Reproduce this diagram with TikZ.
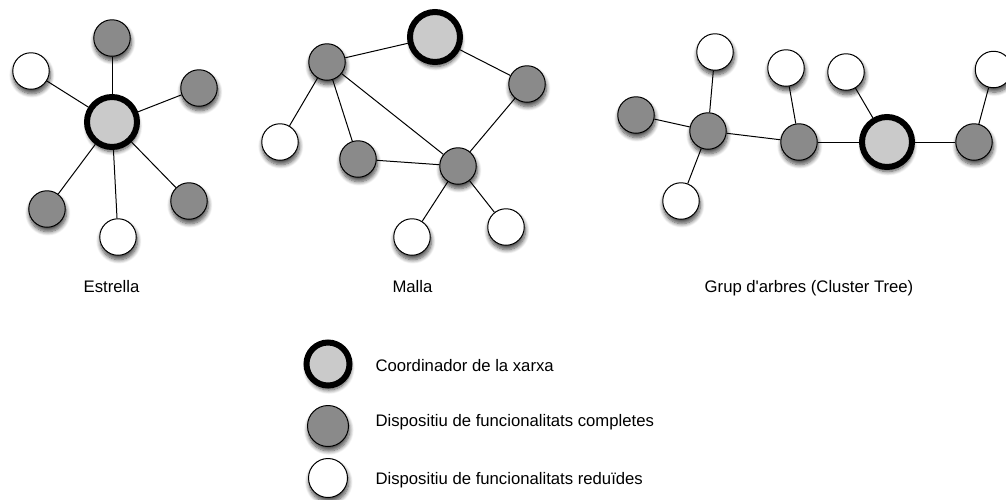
\documentclass[tikz,border=0pt]{standalone}
\usepackage{fontspec}
\setmainfont{Liberation Sans}[Ligatures=TeXOff]
\usetikzlibrary{shadows.blur}
\definecolor{fullgray}{RGB}{138,138,138}
\definecolor{coordgray}{RGB}{202,202,202}
\tikzset{
  shd/.style={blur shadow={shadow xshift=0.8pt, shadow yshift=-4pt, shadow opacity=70, shadow blur steps=8, shadow blur radius=4pt, shadow scale=1.02}},
  ffd/.style={circle, draw=black, line width=1pt, fill=fullgray, minimum size=36.5pt, inner sep=0pt, shd},
  rfd/.style={circle, draw=black, line width=1pt, fill=white, minimum size=36.5pt, inner sep=0pt, shd},
  crd/.style={circle, draw=black, line width=6pt, fill=coordgray, minimum size=50pt, inner sep=0pt, shd},
  edge/.style={draw=black, line width=1pt},
  lbl/.style={font=\fontsize{16.7}{20}\selectfont, anchor=base},
  leg/.style={font=\fontsize{16.7}{20}\selectfont, anchor=base west}
}
\begin{document}
\begin{tikzpicture}[x=1pt,y=-1pt]
\useasboundingbox (0,0) rectangle (1006,499);
% Estrella
\node[crd] (sc) at (112,122) {};
\node[ffd] (s1) at (112,38) {};
\node[rfd] (s2) at (31,71) {};
\node[ffd] (s3) at (199,88) {};
\node[ffd] (s4) at (47,209) {};
\node[rfd] (s5) at (118,237) {};
\node[ffd] (s6) at (189,201) {};
\foreach \n in {s1,s2,s3,s4,s5,s6} \draw[edge] (sc) -- (\n);
\node[lbl] (lstar) at (111.5,292) {Estrella};
% Malla
\node[crd] (mc) at (435,37) {};
\node[ffd] (m1) at (327,62) {};
\node[ffd] (m2) at (527,84) {};
\node[rfd] (m3) at (280,142) {};
\node[ffd] (m4) at (358,159) {};
\node[ffd] (m5) at (458,166) {};
\node[rfd] (m6) at (412,237) {};
\node[rfd] (m7) at (506,227) {};
\draw[edge] (mc) -- (m1);
\draw[edge] (mc) -- (m2);
\draw[edge] (m1) -- (m3);
\draw[edge] (m1) -- (m4);
\draw[edge] (m1) -- (m5);
\draw[edge] (m4) -- (m5);
\draw[edge] (m2) -- (m5);
\draw[edge] (m5) -- (m6);
\draw[edge] (m5) -- (m7);
\node[lbl] (lmesh) at (412.5,292) {Malla};
% Grup d'arbres
\node[ffd] (t1) at (636,115) {};
\node[ffd] (t2) at (708,131) {};
\node[rfd] (t3) at (715,52) {};
\node[rfd] (t4) at (681,201) {};
\node[rfd] (t5) at (786,68) {};
\node[ffd] (t6) at (799,142) {};
\node[rfd] (t7) at (846,72) {};
\node[crd] (tc) at (887,142) {};
\node[ffd] (t8) at (974,142) {};
\node[rfd] (t9) at (993.5,69.5) {};
\draw[edge] (t1) -- (t2);
\draw[edge] (t2) -- (t3);
\draw[edge] (t2) -- (t4);
\draw[edge] (t2) -- (t6);
\draw[edge] (t6) -- (t5);
\draw[edge] (t6) -- (tc);
\draw[edge] (tc) -- (t7);
\draw[edge] (tc) -- (t8);
\draw[edge] (t8) -- (t9);
\node[lbl] (ltree) at (809,292) {Grup d'arbres (Cluster Tree)};
% Llegenda
\node[crd, minimum size=43pt] (lc) at (328,364) {};
\node[ffd, minimum size=41pt] (lf) at (328,426) {};
\node[rfd, minimum size=39pt] (lr) at (328,478) {};
\node[leg] (tc1) at (372,371) {Coordinador de la xarxa};
\node[leg] (tf1) at (372,426) {Dispositiu de funcionalitats completes};
\node[leg] (tr1) at (372,484) {Dispositiu de funcionalitats reduïdes};
\end{tikzpicture}
\end{document}
